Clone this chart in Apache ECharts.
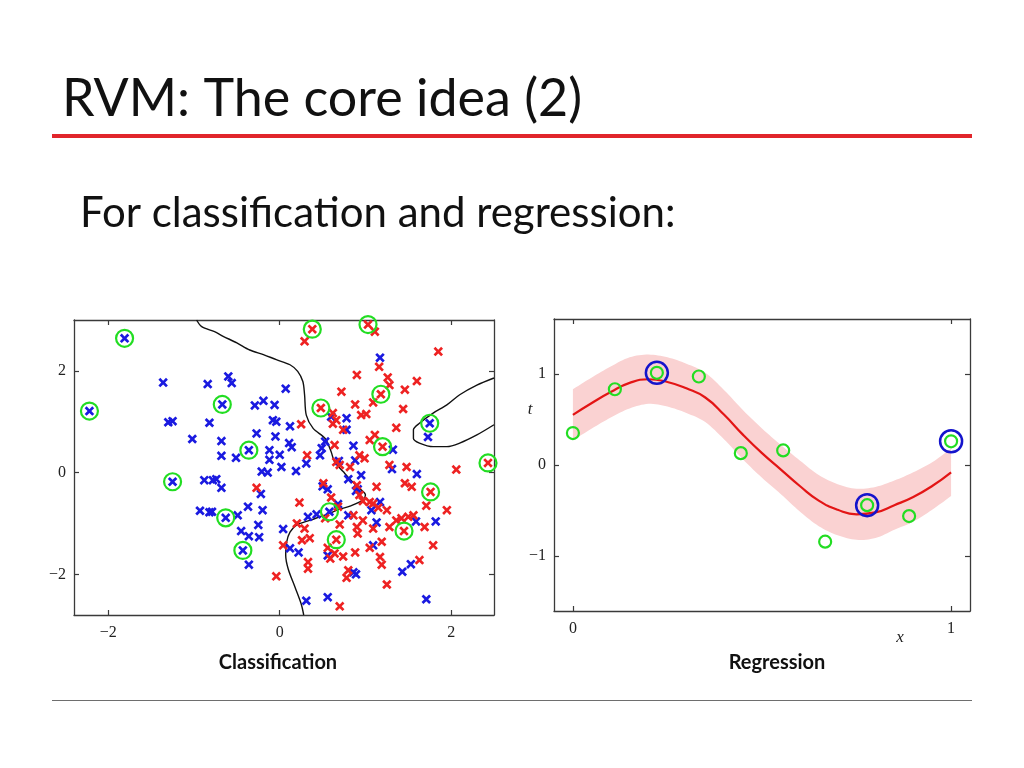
<!DOCTYPE html>
<html><head><meta charset="utf-8">
<script src="https://cdn.jsdelivr.net/npm/echarts@6/dist/echarts.min.js"></script>
<style>html,body{margin:0;padding:0;background:#fff}#c{width:1024px;height:768px}</style>
</head><body><div id="c"></div>
<script>
// ---------- Classification data ----------
const blueClass = [[-1.81,2.64],[-2.22,1.21],[-1.36,1.77],[-0.84,1.74],[-1.30,0.99],[-1.25,1.01],[-0.82,0.98],[-1.02,0.66],[-0.60,1.89],[-0.56,1.76],[0.07,1.65],[-0.67,1.34],[-0.29,1.32],[-0.19,1.41],[-0.06,1.33],[-0.08,1.03],[-0.04,1.00],[0.12,0.91],[0.78,1.07],[-0.27,0.77],[-0.05,0.71],[-0.68,0.62],[-0.36,0.44],[-0.68,0.33],[-0.51,0.29],[-0.12,0.44],[0.00,0.35],[-0.12,0.25],[0.11,0.58],[0.14,0.50],[0.31,0.18],[0.53,0.61],[0.49,0.48],[0.47,0.34],[0.69,0.23],[0.02,0.11],[-0.21,0.02],[-0.14,0.00],[0.19,0.03],[-0.22,-0.42],[0.50,-0.27],[0.56,-0.33],[0.80,-0.13],[0.78,0.84],[1.75,0.97],[1.73,0.70],[0.86,0.53],[1.32,0.45],[0.88,0.24],[0.95,-0.05],[1.31,0.07],[1.60,-0.03],[0.91,-0.33],[0.89,-0.36],[1.17,-0.58],[1.17,2.26],[-0.74,-0.13],[-0.68,-0.30],[-0.37,-0.67],[-0.20,-0.74],[-0.63,-0.89],[-0.79,-0.77],[-0.49,-0.84],[-0.25,-1.03],[-0.24,-1.27],[-0.45,-1.15],[-0.36,-1.25],[-0.43,-1.53],[-0.36,-1.81],[0.33,-0.87],[0.43,-0.82],[0.58,-0.77],[0.68,-0.62],[0.80,-0.84],[0.04,-1.11],[0.12,-1.49],[0.22,-1.57],[0.56,-1.63],[0.31,-2.52],[0.56,-2.45],[-1.25,-0.18],[-0.88,-0.15],[-0.78,-0.15],[-0.93,-0.75],[-0.82,-0.78],[1.07,-0.74],[1.13,-0.98],[1.59,-0.96],[1.82,-0.96],[1.09,-1.43],[1.43,-1.95],[1.53,-1.80],[0.86,-1.96],[0.89,-2.00],[1.71,-2.49],[0.60,1.10]];
const redClass = [[0.38,2.82],[0.29,2.58],[1.03,2.91],[1.11,2.77],[1.85,2.38],[1.16,2.08],[0.90,1.92],[1.26,1.87],[1.28,1.72],[1.60,1.80],[1.46,1.63],[1.18,1.54],[0.88,1.34],[1.09,1.38],[1.44,1.25],[0.95,1.13],[1.01,1.15],[0.72,1.59],[0.48,1.27],[0.62,1.17],[0.66,1.03],[0.62,0.96],[0.25,0.95],[0.74,0.84],[1.36,0.88],[1.05,0.64],[1.11,0.74],[1.20,0.51],[0.93,0.34],[0.99,0.28],[0.82,0.11],[0.32,0.34],[0.64,0.54],[0.66,0.21],[0.70,0.15],[1.28,0.15],[1.48,0.11],[2.06,0.06],[2.43,0.19],[1.46,-0.21],[1.54,-0.28],[1.76,-0.38],[1.13,-0.28],[0.93,-0.44],[1.05,-0.58],[-0.27,-0.30],[0.23,-0.59],[0.51,-0.21],[0.60,-0.49],[0.90,-0.25],[1.09,-0.61],[0.97,-0.56],[1.71,-0.65],[1.95,-0.74],[1.15,-0.69],[1.25,-0.74],[0.86,-0.84],[0.97,-0.94],[1.09,-1.10],[1.36,-0.94],[1.42,-0.90],[1.50,-0.87],[1.56,-0.84],[1.28,-1.07],[1.45,-1.15],[1.69,-1.07],[0.90,-1.07],[0.91,-1.20],[1.19,-1.36],[1.05,-1.48],[1.79,-1.43],[0.88,-1.57],[1.17,-1.66],[1.19,-1.81],[1.63,-1.72],[1.25,-2.20],[0.70,-2.63],[0.78,-2.07],[0.74,-1.65],[-0.04,-2.04],[0.68,-0.67],[0.70,-1.02],[0.66,-1.32],[0.53,-0.90],[0.20,-1.00],[0.29,-1.10],[0.35,-1.29],[0.26,-1.33],[0.04,-1.43],[0.56,-1.48],[0.59,-1.69],[0.64,-1.59],[0.33,-1.76],[0.33,-1.89],[0.80,-1.92]];
const classRelevance = [[-1.81,2.64],[-2.22,1.21],[-0.67,1.34],[-0.36,0.44],[-1.25,-0.18],[-0.63,-0.89],[-0.43,-1.53],[0.58,-0.77],[1.75,0.97],[0.38,2.82],[1.03,2.91],[1.18,1.54],[0.48,1.27],[1.20,0.51],[2.43,0.19],[1.76,-0.38],[1.45,-1.15],[0.66,-1.32]];
const boundaryA = [[-0.97,3.0],[-0.91,2.87],[-0.76,2.77],[-0.66,2.68],[-0.50,2.55],[-0.35,2.41],[-0.19,2.32],[-0.04,2.22],[0.12,2.12],[0.21,1.99],[0.27,1.79],[0.29,1.53],[0.31,1.13],[0.39,0.87],[0.53,0.67],[0.60,0.41],[0.64,0.21],[0.74,0.02],[0.82,-0.13],[0.93,-0.31],[1.00,-0.44],[0.97,-0.54],[0.82,-0.66],[0.70,-0.72],[0.55,-0.82],[0.35,-0.94],[0.20,-1.03],[0.12,-1.17],[0.08,-1.37],[0.07,-1.63],[0.10,-1.90],[0.18,-2.26],[0.25,-2.58],[0.28,-2.8]];
const boundaryB = [[2.5,1.86],[2.30,1.72],[2.10,1.53],[1.95,1.33],[1.79,1.17],[1.63,0.97],[1.56,0.84],[1.56,0.67],[1.63,0.58],[1.79,0.51],[1.95,0.51],[2.10,0.58],[2.30,0.74],[2.5,0.94]];
const classXTicks = [-2, 0, 2];
const classYTicks = [-2, 0, 2];

// ---------- Regression data ----------
const regX = [0, 0.111, 0.222, 0.333, 0.444, 0.556, 0.667, 0.778, 0.889, 1.0];
const regT = [0.35, 0.83, 1.01, 0.97, 0.13, 0.16, -0.84, -0.44, -0.56, 0.26];
const regRelevantIdx = [2, 7, 9];
const curveX = [0,0.05,0.1,0.15,0.2,0.25,0.3,0.35,0.4,0.45,0.5,0.55,0.6,0.65,0.7,0.75,0.8,0.85,0.9,0.95,1.0];
const curveMean = [0.55,0.68,0.80,0.90,0.94,0.91,0.84,0.74,0.55,0.33,0.13,-0.05,-0.23,-0.39,-0.49,-0.54,-0.52,-0.44,-0.35,-0.23,-0.08];
const bandHalf = [0.28,0.28,0.28,0.28,0.27,0.27,0.27,0.27,0.27,0.27,0.27,0.27,0.28,0.28,0.28,0.28,0.28,0.27,0.27,0.26,0.26];
const regXTicks = [0, 1];
const regYTicks = [-1, 0, 1];

// ---------- build ----------
const chart = echarts.init(document.getElementById('c'), null, {renderer: 'canvas'});
const SERIF = '"Liberation Serif", "DejaVu Serif", serif';
const SANS = 'Lato, "Open Sans", sans-serif';
const CROSS = 'path://M2,0L5,3L8,0L10,2L7,5L10,8L8,10L5,7L2,10L0,8L3,5L0,2Z';
const minus = v => String(v).replace('-', '\u2212');

function axis(gridIndex, pos, min, max, ticks, showLabel, margin) {
  return {
    type: 'value', gridIndex, position: pos, min, max,
    splitLine: {show: false},
    axisLine: {show: true, onZero: false, lineStyle: {color: '#3a3a3a', width: 1.3}},
    axisTick: {show: true, inside: true, length: 5, customValues: ticks, lineStyle: {color: '#3a3a3a', width: 1.2}},
    axisLabel: {show: showLabel, customValues: ticks, margin, formatter: minus,
      fontFamily: SERIF, fontSize: 16, color: '#222'}
  };
}

// Catmull-Rom smoothing of pixel points (rendering only)
function smoothPts(p, n) {
  const out = [];
  for (let i = 0; i < p.length - 1; i++) {
    const p0 = p[i - 1] || p[i], p1 = p[i], p2 = p[i + 1], p3 = p[i + 2] || p[i + 1];
    for (let k = 0; k < n; k++) {
      const t = k / n, t2 = t * t, t3 = t2 * t;
      const f = (a, b, c, d) => 0.5 * (2 * b + (-a + c) * t + (2 * a - 5 * b + 4 * c - d) * t2 + (-a + 3 * b - 3 * c + d) * t3);
      out.push([f(p0[0], p1[0], p2[0], p3[0]), f(p0[1], p1[1], p2[1], p3[1])]);
    }
  }
  out.push(p[p.length - 1]);
  return out;
}
const bandPoly = (params, api) => {
  const up = curveX.map((x, i) => api.coord([x, curveMean[i] + bandHalf[i]]));
  const lo = curveX.map((x, i) => api.coord([x, curveMean[i] - bandHalf[i]]));
  const pts = smoothPts(up, 8).concat(smoothPts(lo, 8).reverse());
  return {type: 'polygon', shape: {points: pts}, style: {fill: '#fad2d2'}};
};

const option = {
  animation: false,
  backgroundColor: '#fff',
  grid: [
    {left: 74, top: 320, width: 420, height: 295},
    {left: 554, top: 319, width: 416, height: 292}
  ],
  xAxis: [
    axis(0, 'bottom', -2.4, 2.5, classXTicks, true, 10),
    axis(0, 'top', -2.4, 2.5, classXTicks, false, 8),
    axis(1, 'bottom', -0.05, 1.05, regXTicks, true, 10),
    axis(1, 'top', -0.05, 1.05, regXTicks, false, 8)
  ],
  yAxis: [
    axis(0, 'left', -2.8, 3, classYTicks, true, 8),
    axis(0, 'right', -2.8, 3, classYTicks, false, 8),
    axis(1, 'left', -1.6, 1.6, regYTicks, true, 8),
    axis(1, 'right', -1.6, 1.6, regYTicks, false, 8)
  ],
  series: [
    {type: 'line', xAxisIndex: 0, yAxisIndex: 0, data: boundaryA, showSymbol: false, smooth: 0.3,
      lineStyle: {color: '#111', width: 1.4}, silent: true, z: 2},
    {type: 'line', xAxisIndex: 0, yAxisIndex: 0, data: boundaryB, showSymbol: false, smooth: 0.3,
      lineStyle: {color: '#111', width: 1.4}, silent: true, z: 2},
    {type: 'scatter', xAxisIndex: 0, yAxisIndex: 0, data: blueClass, symbol: CROSS, symbolSize: 9.5,
      itemStyle: {color: '#1a1ae0', opacity: 1}, silent: true, z: 3},
    {type: 'scatter', xAxisIndex: 0, yAxisIndex: 0, data: redClass, symbol: CROSS, symbolSize: 9.5,
      itemStyle: {color: '#ee2222', opacity: 1}, silent: true, z: 3},
    {type: 'scatter', xAxisIndex: 0, yAxisIndex: 0, data: classRelevance, symbol: 'circle', symbolSize: 17,
      itemStyle: {color: 'rgba(0,0,0,0)', borderColor: '#22dd22', borderWidth: 2.2, opacity: 1}, silent: true, z: 4},

    {type: 'custom', xAxisIndex: 2, yAxisIndex: 2, data: [[0, 0]], renderItem: bandPoly, silent: true, z: 1},
    {type: 'line', xAxisIndex: 2, yAxisIndex: 2, data: curveX.map((x, i) => [x, curveMean[i]]), showSymbol: false,
      smooth: true, lineStyle: {color: '#e31515', width: 2.2}, silent: true, z: 2},
    {type: 'scatter', xAxisIndex: 2, yAxisIndex: 2, data: regRelevantIdx.map(i => [regX[i], regT[i]]),
      symbol: 'circle', symbolSize: 22,
      itemStyle: {color: 'rgba(0,0,0,0)', borderColor: '#1414cc', borderWidth: 2.5, opacity: 1}, silent: true, z: 3},
    {type: 'scatter', xAxisIndex: 2, yAxisIndex: 2, data: regX.map((x, i) => [x, regT[i]]),
      symbol: 'circle', symbolSize: 12,
      itemStyle: {color: 'rgba(0,0,0,0)', borderColor: '#22dd22', borderWidth: 2.2, opacity: 1}, silent: true, z: 4}
  ],
  graphic: [
    {type: 'text', x: 62, y: 99, style: {text: 'RVM: The core idea (2)', font: '52px ' + SANS, fill: '#111',
      align: 'left', verticalAlign: 'middle', textAlign: 'left', textVerticalAlign: 'middle'}},
    {type: 'line', shape: {x1: 52, y1: 136, x2: 972, y2: 136}, style: {stroke: '#e1252b', lineWidth: 4}},
    {type: 'text', x: 80, y: 213, style: {text: 'For classification and regression:', font: '42px ' + SANS, fill: '#111',
      align: 'left', verticalAlign: 'middle', textAlign: 'left', textVerticalAlign: 'middle'}},
    {type: 'text', x: 278, y: 663, style: {text: 'Classification', font: 'bold 20px ' + SANS, fill: '#111',
      align: 'center', verticalAlign: 'middle', textAlign: 'center', textVerticalAlign: 'middle'}},
    {type: 'text', x: 777, y: 663, style: {text: 'Regression', font: 'bold 20px ' + SANS, fill: '#111',
      align: 'center', verticalAlign: 'middle', textAlign: 'center', textVerticalAlign: 'middle'}},
    {type: 'text', x: 530, y: 410, style: {text: 't', font: 'italic 17px ' + SERIF, fill: '#222',
      align: 'center', verticalAlign: 'middle', textAlign: 'center', textVerticalAlign: 'middle'}},
    {type: 'text', x: 900, y: 638, style: {text: 'x', font: 'italic 17px ' + SERIF, fill: '#222',
      align: 'center', verticalAlign: 'middle', textAlign: 'center', textVerticalAlign: 'middle'}},
    {type: 'line', shape: {x1: 52, y1: 700.5, x2: 972, y2: 700.5}, style: {stroke: '#6e6e6e', lineWidth: 1}}
  ]
};
chart.setOption(option);
</script>
</body></html>
